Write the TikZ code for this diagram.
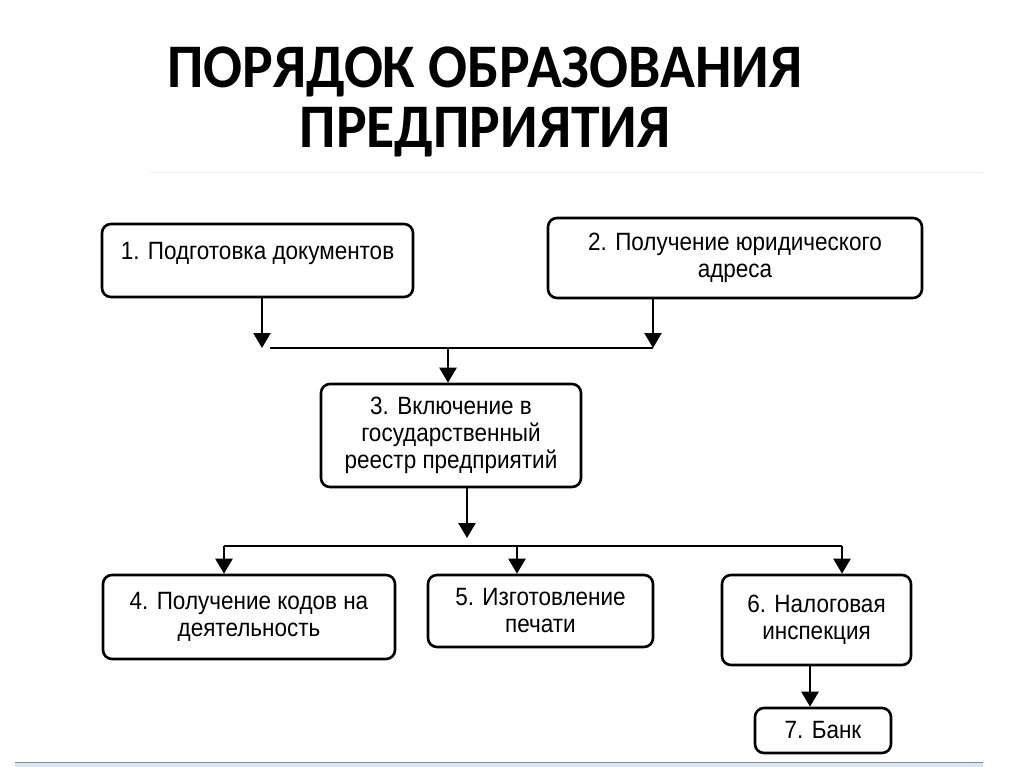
\documentclass[tikz,border=0pt]{standalone}
\usepackage{fontspec}
\setmainfont{Liberation Sans}
\newfontfamily\diagfont{Liberation Sans}[FakeStretch=0.9]
\newfontfamily\titlefont{Carlito}[FakeStretch=0.93]
\usetikzlibrary{arrows.meta}
\definecolor{barline}{RGB}{128,140,158}
\definecolor{barfill}{RGB}{214,228,244}
\begin{document}
\begin{tikzpicture}[x=1pt,y=-1pt,
  box/.style={draw, line width=2.6pt, rounded corners=9pt, align=center, inner sep=0pt,
    font=\diagfont\fontsize{25}{27}\selectfont},
  conn/.style={line width=2.4pt},
  arr/.style={conn, -{Triangle[length=15pt,width=17pt]}},
  ttl/.style={anchor=base, inner sep=0pt, font=\titlefont\bfseries\fontsize{62}{62}\selectfont}]
\useasboundingbox (0,0) rectangle (1024,767);
\fill[white] (0,0) rectangle (1024,767);
% faint frame remnants
\draw[black!6, line width=1pt] (150,173) -- (983,173);
\fill[barfill] (15,763) rectangle (983,767);
\draw[barline, line width=1pt] (15,762.5) -- (983,762.5);
% title
\node[ttl] (t1) at (485,88) {ПОРЯДОК ОБРАЗОВАНИЯ};
\node[ttl] (t2) at (485,148) {ПРЕДПРИЯТИЯ};
% boxes
\node[box, minimum width=311pt, minimum height=73pt, text height=17pt, text depth=20pt] (b1) at (257.5,260.5) {1. Подготовка документов};
\node[box, minimum width=374pt, minimum height=80pt] (b2) at (735,258) {2. Получение юридического\\адреса};
\node[box, minimum width=260pt, minimum height=103pt] (b3) at (451,435.5) {3. Включение в\\государственный\\реестр предприятий};
\node[box, minimum width=292pt, minimum height=84pt] (b4) at (249,617) {4. Получение кодов на\\деятельность};
\node[box, minimum width=225pt, minimum height=72pt] (b5) at (540.5,611) {5. Изготовление\\печати};
\node[box, minimum width=189pt, minimum height=90pt] (b6) at (816.5,620) {6. Налоговая\\инспекция};
\node[box, minimum width=136pt, minimum height=45pt] (b7) at (823,730.5) {7. Банк};
% connectors
\coordinate (p1) at (262,348);
\coordinate (p2) at (653,348);
\coordinate (p1r) at (270,348);
\coordinate (m1) at (448,348);
\draw[arr] (b1.south -| p1) -- (p1);
\draw[arr] (b2.south -| p2) -- (p2);
\draw[conn] (p1r) -- (p2);
\draw[arr] (m1) -- (m1 |- b3.north);
\coordinate (m2) at (467,538);
\draw[arr] (b3.south -| m2) -- (m2);
\coordinate (L) at (224,546);
\coordinate (C) at (517,546);
\coordinate (R) at (842,546);
\draw[conn] (L) -- (R);
\draw[arr] (L) -- (L |- b4.north);
\draw[arr] (C) -- (C |- b5.north);
\draw[arr] (R) -- (R |- b6.north);
\coordinate (k) at (810,700);
\draw[arr] (b6.south -| k) -- (k |- b7.north);
\end{tikzpicture}
\end{document}
